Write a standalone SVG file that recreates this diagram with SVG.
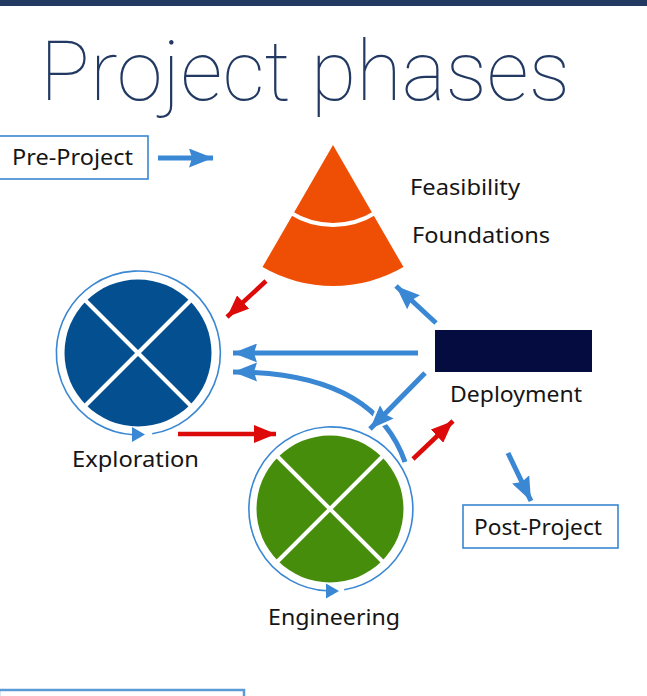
<svg xmlns="http://www.w3.org/2000/svg" width="647" height="696" viewBox="0 0 647 696">
  <defs>
    <style>
      .lbl { font-family: "Noto Sans", "Liberation Sans", sans-serif; font-size: 22px; fill: #151515; }
      .ring { fill: none; stroke: #3a87d3; stroke-width: 1.6; }
      .cross { stroke: #fff; stroke-width: 4; }
      .box { fill: #fff; stroke: #3a87d3; stroke-width: 1.6; }
      .blue { fill: none; stroke: #3a87d3; stroke-width: 5; marker-end: url(#headBlue); }
      .red { fill: none; stroke: #dd0a0a; stroke-width: 4.5; marker-end: url(#headRed); }
      .halo { fill: none; stroke: #fff; stroke-width: 9; marker-end: url(#headHalo); }
    </style>
    <marker id="headBlue" viewBox="0 0 24 19" markerWidth="24" markerHeight="19" refX="24" refY="9.5" orient="auto" markerUnits="userSpaceOnUse">
      <path d="M0,0 L24,9.5 L0,19 L3,9.5 Z" fill="#3a87d3"/>
    </marker>
    <marker id="headHalo" viewBox="-4 -4 32 27" markerWidth="32" markerHeight="27" refX="24" refY="9.5" orient="auto" markerUnits="userSpaceOnUse">
      <path d="M0,0 L24,9.5 L0,19 L3,9.5 Z" fill="#fff" stroke="#fff" stroke-width="5" stroke-linejoin="round"/>
    </marker>
    <marker id="headRed" viewBox="0 0 22 18" markerWidth="22" markerHeight="18" refX="22" refY="9" orient="auto" markerUnits="userSpaceOnUse">
      <path d="M0,0 L22,9 L0,18 Z" fill="#dd0a0a"/>
    </marker>
  </defs>

  <rect width="647" height="696" fill="#fff"/>
  <!-- header band and title -->
  <rect x="0" y="0" width="647" height="6" fill="#223962"/>
  <text x="40" y="100" font-family="Roboto, 'Open Sans', 'Liberation Sans', sans-serif" font-weight="100" font-size="84" fill="#223962" textLength="530" lengthAdjust="spacingAndGlyphs">Project phases</text>

  <!-- pre-project -->
  <g id="pre-project">
    <rect class="box" x="-1" y="136" width="149" height="43"/>
    <text class="lbl" x="12" y="165" textLength="121" lengthAdjust="spacingAndGlyphs">Pre-Project</text>
  </g>

  <!-- feasibility / foundations cone -->
  <g id="feasibility">
    <path d="M333,145 L262.5,267.1 A141,141 0 0 0 403.5,267.1 Z" fill="#ef4f04"/>
    <path d="M290.6,212.8 A80,80 0 0 0 375.4,212.8" fill="none" stroke="#fff" stroke-width="4"/>
    <text class="lbl" x="410" y="195" textLength="110" lengthAdjust="spacingAndGlyphs">Feasibility</text>
    <text class="lbl" x="412" y="243" textLength="138" lengthAdjust="spacingAndGlyphs">Foundations</text>
  </g>

  <!-- exploration -->
  <g id="exploration">
    <path class="ring" d="M152.2,433.8 A82,82 0 1 0 133,434.8"/>
    <path d="M132,427 L145,434.5 L132,442 Z" fill="#3a87d3"/>
    <circle cx="138" cy="353" r="73.5" fill="#034f8f"/>
    <line class="cross" x1="85" y1="300" x2="191" y2="406"/>
    <line class="cross" x1="191" y1="300" x2="85" y2="406"/>
    <text class="lbl" x="72" y="467" textLength="127" lengthAdjust="spacingAndGlyphs">Exploration</text>
  </g>

  <!-- engineering -->
  <g id="engineering">
    <path class="ring" d="M344.2,589.8 A82,82 0 1 0 327,590.8"/>
    <path d="M326,583.5 L339,591 L326,598.5 Z" fill="#3a87d3"/>
    <circle cx="330" cy="509" r="73.5" fill="#468d0c"/>
    <line class="cross" x1="277" y1="456" x2="383" y2="562"/>
    <line class="cross" x1="383" y1="456" x2="277" y2="562"/>
    <text class="lbl" x="268" y="625" textLength="132" lengthAdjust="spacingAndGlyphs">Engineering</text>
  </g>

  <!-- deployment -->
  <g id="deployment">
    <rect x="435" y="330" width="157" height="42" fill="#050c40"/>
    <text class="lbl" x="450" y="402" textLength="132" lengthAdjust="spacingAndGlyphs">Deployment</text>
  </g>

  <!-- post-project -->
  <g id="post-project">
    <rect class="box" x="463" y="505" width="155" height="43"/>
    <text class="lbl" x="474" y="535" textLength="128" lengthAdjust="spacingAndGlyphs">Post-Project</text>
  </g>

  <!-- partial frame at the lower edge -->
  <rect x="-1" y="690" width="245" height="20" fill="none" stroke="#5b9bd8" stroke-width="2.5"/>

  <!-- connectors -->
  <g id="connectors">
    <line class="blue" x1="158" y1="158" x2="213" y2="158"/>
    <line class="red" x1="266" y1="281" x2="227" y2="317"/>
    <line class="red" x1="178" y1="434" x2="276" y2="434"/>
    <line class="red" x1="413" y1="459" x2="453" y2="421"/>
    <line class="blue" x1="418" y1="353" x2="233" y2="353"/>
    <path class="blue" d="M405,462 C385,405 330,372 233,372"/>
    <line class="halo" x1="400" y1="398.5" x2="370" y2="429"/>
    <line class="blue" x1="425" y1="373" x2="370" y2="429"/>
    <line class="blue" x1="436" y1="323" x2="396" y2="286"/>
    <line class="blue" x1="508" y1="453" x2="531" y2="501"/>
  </g>
</svg>
